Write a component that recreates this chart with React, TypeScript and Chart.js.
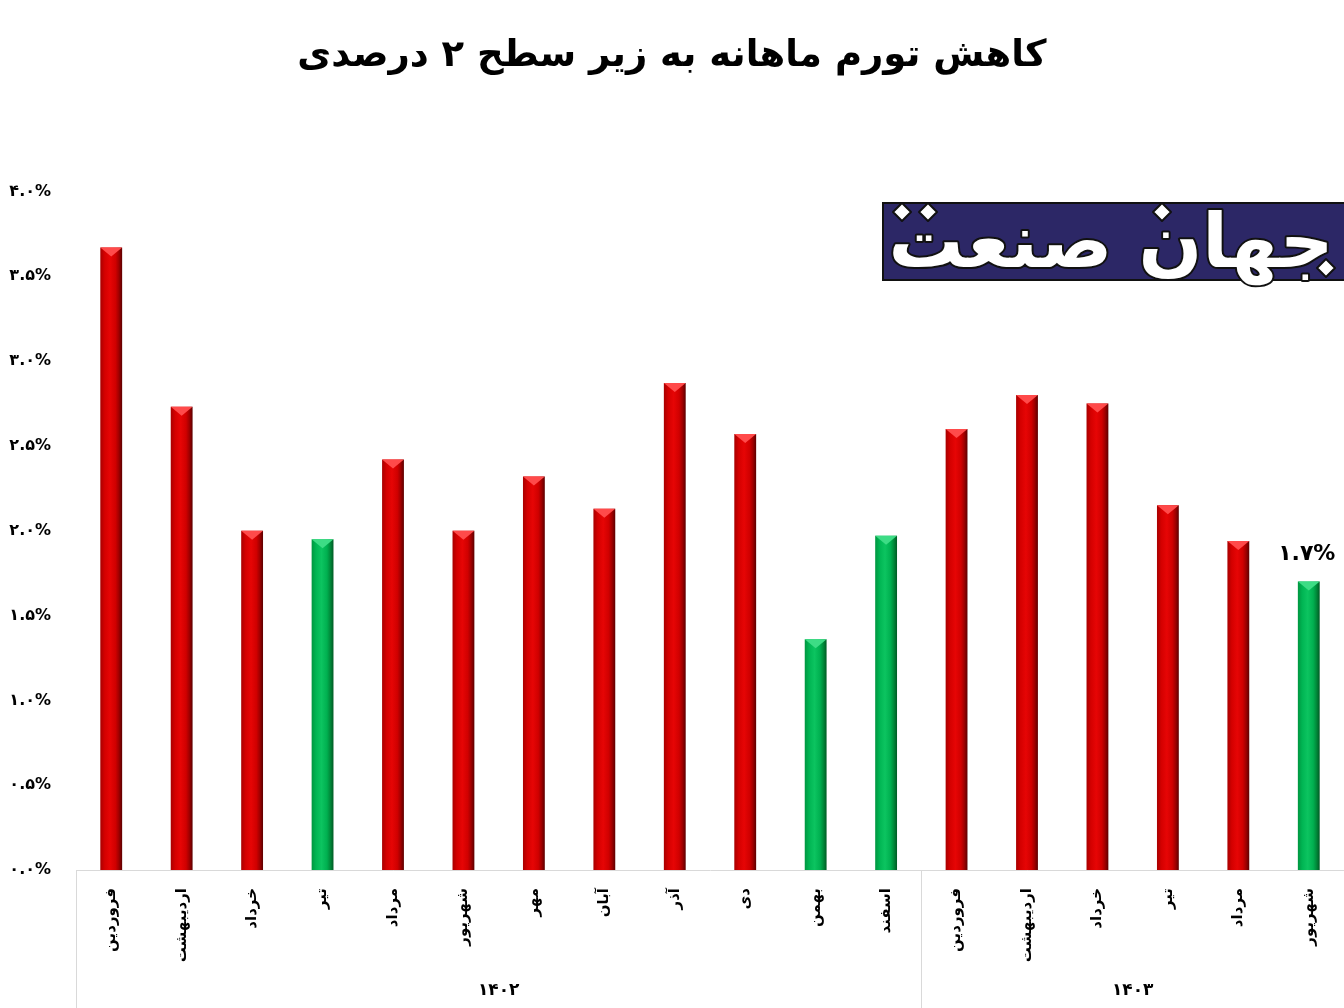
import React, { useEffect, useRef } from 'react';
import { Chart, registerables } from 'chart.js';

Chart.register(...registerables);

const chartTitle = 'کاهش تورم ماهانه به زیر سطح ۲ درصدی';
const months = ['فروردین', 'اردیبهشت', 'خرداد', 'تیر', 'مرداد', 'شهریور', 'مهر', 'آبان', 'آذر', 'دی', 'بهمن', 'اسفند', 'فروردین', 'اردیبهشت', 'خرداد', 'تیر', 'مرداد', 'شهریور'];
const values = [3.67, 2.73, 2.0, 1.95, 2.42, 2.0, 2.32, 2.13, 2.87, 2.57, 1.36, 1.97, 2.6, 2.8, 2.75, 2.15, 1.94, 1.7];
const barKinds = ['r', 'r', 'r', 'g', 'r', 'r', 'r', 'r', 'r', 'r', 'g', 'g', 'r', 'r', 'r', 'r', 'r', 'g'];
const years = ['۱۴۰۲', '۱۴۰۳'];
const yearSpans = [12, 6];
const highlightIndex = 17;
const highlightLabel = '۱.۷%';
const logoText = 'جهان صنعت';
const yMin = 0;
const yMax = 4;
const yStep = 0.5;

const FONT = '"DejaVu Sans", sans-serif';
const BAR_PCT = 0.31;

const faDigits = '۰۱۲۳۴۵۶۷۸۹';
const toFa = (s: string) => s.replace(/[0-9]/g, (d) => faDigits[Number(d)]);

const palettes: Record<string, { stops: string[]; top: string }> = {
  r: { stops: ['#a80000', '#d40000', '#e60505', '#d00000', '#a00000', '#5c0000'], top: '#ff4a4a' },
  g: { stops: ['#009640', '#00b553', '#0cc460', '#00b050', '#008a3a', '#005a24'], top: '#3ddc85' },
};

export default function App() {
  const ref = useRef<HTMLCanvasElement | null>(null);

  useEffect(() => {
    document.body.style.margin = '0';
    const canvas = ref.current;
    if (!canvas) return;

    const extras = {
      id: 'extras',
      beforeDatasetsDraw(chart: any) {
        const ctx = chart.ctx;
        const meta = chart.getDatasetMeta(0);
        meta.data.forEach((el: any, i: number) => {
          const p = palettes[barKinds[i]];
          const w = el.width;
          if (!isFinite(el.x) || !isFinite(w)) return;
          const g = ctx.createLinearGradient(el.x - w / 2, 0, el.x + w / 2, 0);
          const pos = [0, 0.2, 0.45, 0.7, 0.85, 1];
          p.stops.forEach((s, k) => g.addColorStop(pos[k], s));
          el.options.backgroundColor = g;
        });
      },
      afterDatasetsDraw(chart: any) {
        const ctx = chart.ctx;
        const meta = chart.getDatasetMeta(0);
        meta.data.forEach((el: any, i: number) => {
          const p = palettes[barKinds[i]];
          const w = el.width;
          const l = el.x - w / 2;
          const r = el.x + w / 2;
          const t = el.y;
          ctx.save();
          ctx.fillStyle = p.top;
          ctx.beginPath();
          ctx.moveTo(l, t);
          ctx.lineTo(r, t);
          ctx.lineTo(el.x, t + 9);
          ctx.closePath();
          ctx.fill();
          ctx.restore();
        });
        const el = meta.data[highlightIndex];
        if (el) {
          ctx.save();
          ctx.font = `bold 22px ${FONT}`;
          ctx.fillStyle = '#000';
          ctx.textAlign = 'center';
          ctx.textBaseline = 'bottom';
          ctx.fillText(highlightLabel, el.x - 2, el.y - 16);
          ctx.restore();
        }
      },
      afterDraw(chart: any) {
        const ctx = chart.ctx;
        const xs = chart.scales.x;
        const H = chart.height;
        ctx.save();
        ctx.strokeStyle = '#d9d9d9';
        ctx.lineWidth = 1;
        let start = 0;
        const bounds: number[] = [];
        const edge = (k: number) => {
          if (k <= 0) return xs.left;
          if (k >= months.length) return xs.right;
          return (xs.getPixelForValue(k - 1) + xs.getPixelForValue(k)) / 2;
        };
        bounds.push(edge(0));
        yearSpans.forEach((span) => {
          start += span;
          bounds.push(edge(start));
        });
        bounds.forEach((bx) => {
          const px = Math.round(bx) + 0.5;
          ctx.beginPath();
          ctx.moveTo(px, xs.top);
          ctx.lineTo(px, H);
          ctx.stroke();
        });
        ctx.font = `bold 17px ${FONT}`;
        ctx.fillStyle = '#000';
        ctx.textAlign = 'center';
        ctx.textBaseline = 'middle';
        years.forEach((y, i) => {
          ctx.fillText(y, (bounds[i] + bounds[i + 1]) / 2, 991);
        });
        ctx.restore();

        const bx = 883, by = 203, bw = 470, bh = 77;
        ctx.save();
        ctx.fillStyle = '#2c2766';
        ctx.strokeStyle = '#111';
        ctx.lineWidth = 2;
        ctx.fillRect(bx, by, bw, bh);
        ctx.strokeRect(bx, by, bw, bh);
        ctx.font = `bold 80px ${FONT}`;
        const mw = ctx.measureText(logoText).width;
        const size = Math.min(110, (80 * 445) / mw);
        ctx.font = `bold ${size}px ${FONT}`;
        ctx.textAlign = 'center';
        ctx.textBaseline = 'alphabetic';
        ctx.lineJoin = 'round';
        ctx.lineWidth = 4;
        ctx.strokeStyle = '#111';
        ctx.strokeText(logoText, bx + 228, by + 64);
        ctx.fillStyle = '#fff';
        ctx.fillText(logoText, bx + 228, by + 64);
        const diamonds = [[902, 212], [928, 212], [1162, 212], [1326, 268]];
        diamonds.forEach(([dx, dy]) => {
          ctx.beginPath();
          ctx.moveTo(dx, dy - 9);
          ctx.lineTo(dx + 9, dy);
          ctx.lineTo(dx, dy + 9);
          ctx.lineTo(dx - 9, dy);
          ctx.closePath();
          ctx.fillStyle = '#fff';
          ctx.fill();
          ctx.lineWidth = 2;
          ctx.strokeStyle = '#111';
          ctx.stroke();
        });
        ctx.restore();
      },
    };

    const chart = new Chart(canvas, {
      type: 'bar',
      data: {
        labels: months,
        datasets: [
          {
            data: values,
            categoryPercentage: 1,
            barPercentage: BAR_PCT,
            borderWidth: 0,
            backgroundColor: barKinds.map((k) => palettes[k].stops[2]),
          },
        ],
      },
      options: {
        responsive: false,
        animation: false,
        devicePixelRatio: 1,
        layout: { padding: { left: 0, right: 0, top: 0, bottom: 0 } },
        plugins: {
          legend: { display: false },
          tooltip: { enabled: false },
          title: {
            display: true,
            text: chartTitle,
            color: '#000',
            font: { family: FONT, size: 37, weight: 'bold' },
            padding: { top: 34, bottom: 113 },
          },
        },
        scales: {
          x: {
            grid: { display: false },
            border: { display: true, color: '#d9d9d9' },
            ticks: {
              autoSkip: false,
              maxRotation: 90,
              minRotation: 90,
              padding: 10,
              color: '#000',
              font: { family: FONT, size: 15, weight: 'bold' },
            },
            afterFit: (s: any) => {
              s.height = 138;
            },
          },
          y: {
            min: yMin,
            max: yMax,
            grid: { display: false, drawTicks: false },
            border: { display: false },
            ticks: {
              stepSize: yStep,
              padding: 25,
              color: '#000',
              font: { family: FONT, size: 16, weight: 'bold' },
              callback: (v: any) => toFa(Number(v).toFixed(1)) + '%',
            },
            afterFit: (s: any) => {
              s.width = 76;
            },
          },
        },
      },
      plugins: [extras],
    });

    return () => chart.destroy();
  }, []);

  return (
    <div style={{ width: 1344, height: 1008 }}>
      <canvas ref={ref} width={1344} height={1008} style={{ display: 'block' }} />
    </div>
  );
}
